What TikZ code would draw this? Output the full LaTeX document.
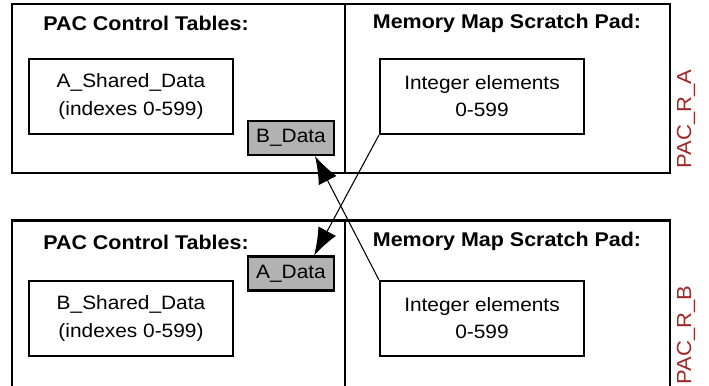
\documentclass[tikz,border=0pt]{standalone}
\usepackage{fontspec}
\setmainfont{Liberation Sans}[FakeStretch=1.08]
\usetikzlibrary{arrows.meta}
\definecolor{rahmenrot}{RGB}{160,40,40}
\begin{document}
\begin{tikzpicture}[
      font=\fontsize{11}{15.4}\selectfont,
      rahmen/.style={line width=1.4pt},
      box/.style={draw, line width=1.2pt, minimum width=4.08cm, minimum height=1.5cm, align=center, inner sep=2pt},
      datbox/.style={draw, line width=1.2pt, fill=black!30, minimum width=1.72cm, minimum height=0.68cm, inner sep=1pt},
      titel/.style={font=\fontsize{11.3}{13}\selectfont\bfseries},
      seite/.style={rotate=90, text=rahmenrot, font=\fontsize{11.6}{13}\selectfont},
      pfeil/.style={-{Latex[length=0.55cm, width=0.4cm]}, line width=0.6pt}
    ]
      \useasboundingbox (0,0) rectangle (14.18,-7.7);

      % oberer Rahmen
      \draw[rahmen] (0.24,-0.08) rectangle (13.4,-3.46);
      \draw[rahmen] (6.9,-0.08) -- (6.9,-3.46);
      \node[titel] (pctA) at (2.92,-0.46) {PAC Control Tables:};
      \node[titel] (mmsA) at (10.14,-0.46) {Memory Map Scratch Pad:};
      \node[box] (shA) at (2.62,-1.93) {A\_Shared\_Data\\(indexes 0-599)};
      \node[box] (intA) at (9.64,-1.93) {Integer elements\\0-599};
      \node[datbox] (bdata) at (5.82,-2.76) {B\_Data};
      \node[seite] (rA) at (13.72,-2.38) {PAC\_R\_A};

      % unterer Rahmen
      \begin{scope}
        \clip (0,0) rectangle (14.18,-7.7);
        \draw[rahmen] (0.24,-4.41) rectangle (13.4,-7.9);
        \draw[rahmen] (6.9,-4.41) -- (6.9,-7.9);
      \end{scope}
      \node[titel] (pctB) at (2.92,-4.84) {PAC Control Tables:};
      \node[titel] (mmsB) at (10.14,-4.82) {Memory Map Scratch Pad:};
      \node[box] (shB) at (2.62,-6.37) {B\_Shared\_Data\\(indexes 0-599)};
      \node[box] (intB) at (9.64,-6.37) {Integer elements\\0-599};
      \node[datbox] (adata) at (5.82,-5.47) {A\_Data};
      \node[seite] (rB) at (13.72,-6.7) {PAC\_R\_B};

      \draw[pfeil] (intA.south west) -- (adata.38);
      \draw[pfeil] (intB.north west) -- (bdata.-37);
    \end{tikzpicture}
\end{document}
